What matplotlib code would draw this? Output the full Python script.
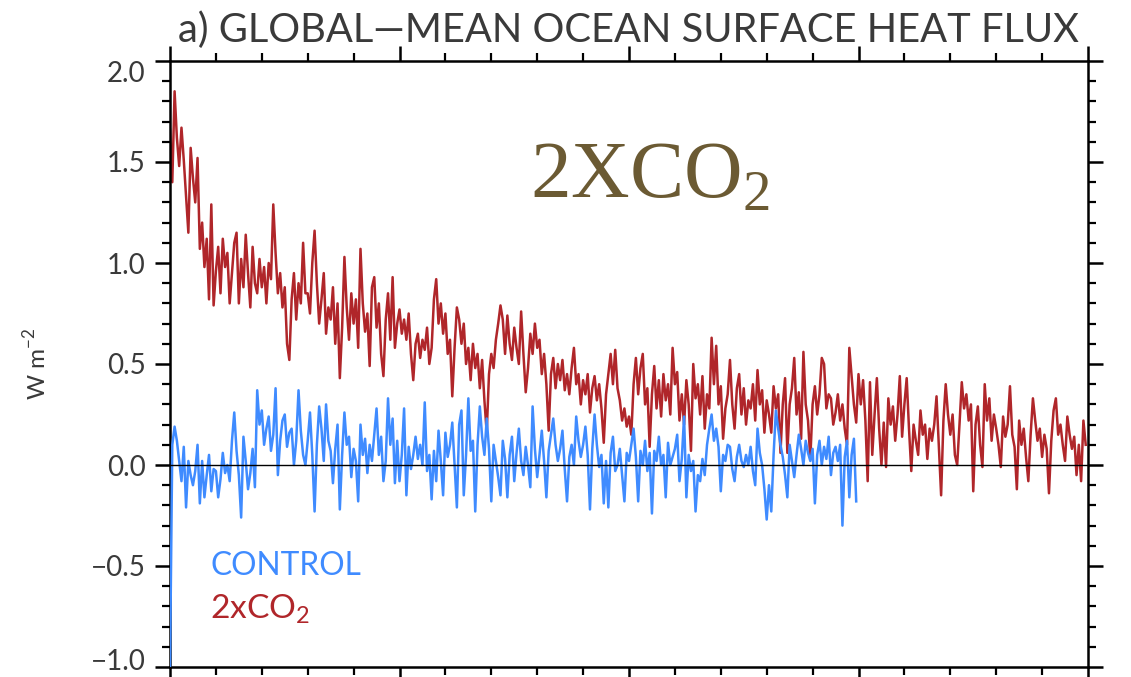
import numpy as np
import matplotlib
matplotlib.use("Agg")
import matplotlib.pyplot as plt
from matplotlib.ticker import MultipleLocator
import matplotlib.transforms as mtransforms

# ---- labels -------------------------------------------------------------
title_text = "a) GLOBAL\u2014MEAN OCEAN SURFACE HEAT FLUX"
ylabel_text = r"W m$^{\mathregular{-2}}$"
control_name = "CONTROL"
co2_name = r"2xCO$_\mathregular{2}$"
run_label = r"2XCO$_\mathregular{2}$"

yticks = [-1.0, -0.5, 0.0, 0.5, 1.0, 1.5, 2.0]
ytick_labels = ["\u22121.0", "\u22120.5", "0.0", "0.5", "1.0", "1.5", "2.0"]

# ---- annual global-mean ocean surface heat flux (W m-2) ------------------
co2_flux = np.array([
    1.66, 1.40, 1.85, 1.62, 1.48, 1.67, 1.51, 1.33, 1.15, 1.57,
    1.42, 1.30, 1.52, 1.07, 1.20, 0.98, 1.12, 0.82, 1.29, 0.79,
    0.96, 1.08, 0.85, 1.12, 0.98, 1.05, 0.80, 0.95, 1.10, 1.15,
    0.80, 1.02, 0.88, 1.14, 0.95, 0.78, 1.08, 0.90, 0.85, 1.02,
    0.88, 0.98, 0.80, 1.00, 0.92, 1.29, 1.05, 0.85, 0.95, 0.78,
    0.88, 0.60, 0.52, 0.82, 0.95, 0.72, 0.90, 0.80, 1.10, 0.85,
    0.85, 0.75, 1.00, 1.16, 0.90, 0.70, 0.82, 0.95, 0.65, 0.78,
    0.72, 0.88, 0.60, 0.80, 0.43, 0.68, 1.03, 0.78, 0.62, 0.85,
    0.70, 0.82, 0.58, 1.07, 0.80, 0.66, 0.75, 0.49, 0.88, 0.93,
    0.68, 0.80, 0.55, 0.44, 0.72, 0.85, 0.62, 0.93, 0.58, 0.70,
    0.77, 0.65, 0.72, 0.62, 0.75, 0.55, 0.42, 0.60, 0.65, 0.53,
    0.62, 0.57, 0.68, 0.50, 0.58, 0.82, 0.92, 0.70, 0.80, 0.65,
    0.75, 0.55, 0.62, 0.34, 0.58, 0.78, 0.72, 0.60, 0.70, 0.50,
    0.58, 0.42, 0.60, 0.48, 0.55, 0.38, 0.52, 0.32, 0.16, 0.45,
    0.55, 0.48, 0.62, 0.70, 0.79, 0.72, 0.55, 0.74, 0.60, 0.52,
    0.68, 0.58, 0.50, 0.76, 0.55, 0.36, 0.48, 0.65, 0.55, 0.70,
    0.58, 0.62, 0.45, 0.55, 0.40, 0.17, 0.45, 0.53, 0.38, 0.50,
    0.42, 0.52, 0.37, 0.45, 0.35, 0.48, 0.58, 0.40, 0.45, 0.30,
    0.42, 0.35, 0.45, 0.26, 0.38, 0.44, 0.32, 0.40, 0.28, 0.11,
    0.35, 0.45, 0.55, 0.40, 0.57, 0.38, 0.32, 0.22, 0.28, 0.19,
    0.24, 0.15, 0.40, 0.53, 0.35, 0.48, 0.55, 0.30, 0.38, 0.09,
    0.35, 0.49, 0.28, 0.42, 0.24, 0.45, 0.32, 0.40, 0.25, 0.58,
    0.40, 0.46, 0.22, 0.35, 0.20, 0.42, 0.30, 0.07, 0.50, 0.33,
    0.40, 0.25, 0.44, 0.18, 0.35, 0.28, 0.63, 0.40, 0.59, 0.30,
    0.39, 0.13, 0.28, 0.35, 0.52, 0.30, 0.18, 0.38, 0.45, 0.25,
    0.38, 0.20, 0.32, 0.28, 0.40, 0.22, 0.47, 0.30, 0.37, 0.16,
    0.32, 0.25, 0.16, 0.39, 0.28, 0.35, 0.06, 0.30, 0.43, 0.06,
    0.30, 0.38, 0.53, 0.25, 0.36, 0.13, 0.56, 0.30, 0.22, 0.03,
    0.30, 0.39, 0.25, 0.35, 0.53, 0.50, 0.28, 0.35, 0.33, 0.20,
    0.26, 0.35, 0.22, 0.30, 0.18, 0.10, 0.58, 0.44, 0.30, 0.21,
    0.45, 0.30, 0.42, 0.22, -0.08, 0.41, 0.05, 0.25, 0.43, 0.18,
    0.00, 0.21, -0.01, 0.33, 0.20, 0.29, 0.12, 0.25, 0.44, 0.14,
    0.30, 0.43, 0.18, -0.03, 0.20, 0.12, 0.05, 0.27, 0.15, 0.20,
    0.03, 0.18, 0.12, 0.20, 0.34, 0.10, -0.15, 0.22, 0.40, 0.25,
    0.15, 0.25, 0.05, 0.00, 0.20, 0.41, 0.28, 0.35, 0.22, 0.30,
    -0.13, 0.20, 0.29, 0.10, -0.01, 0.40, 0.22, 0.33, 0.12, 0.25,
    0.18, 0.10, -0.01, 0.24, 0.14, 0.20, 0.39, 0.15, 0.09, -0.12,
    0.22, 0.10, 0.18, 0.04, -0.08, 0.15, 0.33, 0.22, 0.12, 0.18,
    0.04, 0.15, 0.08, -0.14, 0.12, 0.27, 0.33, 0.15, 0.20, 0.10,
    0.02, 0.24, 0.15, 0.08, 0.14, -0.05, 0.10, -0.08, 0.22, 0.10,
])

control_flux = np.array([
    -1.00, 0.10, 0.19, 0.12, 0.02, -0.08, 0.09, -0.21, 0.02, -0.05,
    -0.10, -0.03, 0.10, -0.19, 0.02, -0.16, -0.05, 0.05, -0.13, -0.02,
    -0.03, -0.16, -0.07, 0.06, -0.04, 0.00, -0.08, 0.12, 0.26, 0.07,
    -0.05, -0.26, 0.14, 0.02, -0.12, -0.04, 0.08, -0.11, 0.37, 0.20,
    0.27, 0.10, 0.18, 0.24, 0.07, 0.15, 0.38, -0.05, 0.12, 0.22,
    0.25, 0.09, 0.16, 0.18, 0.00, 0.12, 0.37, 0.17, 0.05, 0.00,
    0.12, 0.26, 0.05, -0.23, 0.10, 0.29, 0.18, 0.02, 0.30, 0.12,
    0.07, -0.09, 0.08, 0.20, -0.22, 0.05, 0.26, 0.10, 0.14, -0.06,
    0.08, 0.02, -0.18, 0.20, 0.05, 0.13, -0.04, 0.10, 0.02, 0.15,
    0.28, 0.05, 0.14, -0.08, 0.02, 0.33, 0.10, 0.23, -0.09, 0.12,
    -0.08, 0.05, 0.28, -0.15, 0.09, -0.02, 0.05, 0.14, 0.03, 0.10,
    0.00, 0.31, -0.03, 0.05, -0.17, 0.07, -0.08, 0.17, 0.02, -0.15,
    0.16, 0.04, 0.10, 0.21, 0.00, -0.21, 0.20, 0.27, -0.15, 0.05,
    0.33, 0.07, 0.12, -0.23, 0.10, 0.29, 0.14, 0.05, 0.23, 0.08,
    -0.18, 0.10, 0.02, -0.06, -0.15, 0.12, 0.03, -0.16, 0.05, 0.14,
    -0.08, 0.06, 0.18, 0.02, -0.05, 0.09, 0.00, -0.11, 0.29, 0.08,
    -0.06, 0.05, 0.17, 0.02, -0.16, 0.07, 0.15, 0.23, 0.10, 0.02,
    0.08, 0.17, -0.02, -0.18, 0.04, 0.10, 0.00, 0.24, 0.12, 0.04,
    0.10, 0.19, 0.05, -0.22, 0.08, 0.25, 0.10, -0.01, 0.05, -0.19,
    0.02, -0.21, 0.06, 0.14, -0.03, 0.00, 0.08, -0.05, -0.18, 0.06,
    0.02, 0.10, 0.18, 0.04, -0.18, 0.07, 0.00, 0.12, -0.03, 0.06,
    -0.24, 0.07, 0.02, 0.14, 0.00, 0.05, -0.16, 0.11, 0.00, 0.04,
    0.08, 0.15, -0.08, 0.03, 0.24, -0.16, 0.05, -0.03, 0.02, -0.23,
    -0.05, -0.08, 0.03, -0.05, 0.10, 0.18, 0.25, 0.12, 0.18, 0.09,
    -0.13, 0.05, 0.02, 0.10, 0.09, -0.02, -0.08, 0.04, 0.10, 0.02,
    -0.01, 0.05, 0.00, 0.09, -0.03, -0.10, 0.18, 0.06, 0.00, -0.12,
    -0.27, -0.10, -0.23, 0.05, 0.27, 0.18, 0.10, 0.04, -0.05, -0.16,
    0.10, 0.02, -0.06, 0.05, 0.15, 0.08, 0.00, 0.12, 0.06, 0.02,
    0.08, -0.19, 0.05, 0.12, 0.00, 0.09, 0.03, 0.14, -0.05, 0.06,
    0.09, 0.02, 0.10, -0.30, 0.04, 0.12, -0.16, 0.05, 0.13, -0.18,
])

years_co2 = np.arange(len(co2_flux))
years_control = np.arange(len(control_flux))

RED = "#b0262a"
BLUE = "#3f8bff"
INK = "#3a3a3a"
OLIVE = "#6b5a33"
SANS = ["Lato", "DejaVu Sans"]
SERIF = ["Liberation Serif", "DejaVu Serif"]

W, H = 1131, 677
fig = plt.figure(figsize=(W / 100, H / 100), dpi=100)
ax = fig.add_axes([170 / W, 10 / H, 918 / W, 606 / H])

ax.plot(years_co2, co2_flux, color=RED, lw=1.8, zorder=2)
ax.plot(years_control, control_flux, color=BLUE, lw=1.8, zorder=3)
ax.axhline(0.0, color="black", lw=1.0, zorder=4)

ax.set_xlim(0, 400)
ax.set_ylim(-1.0, 2.0)
ax.xaxis.set_major_locator(MultipleLocator(100))
ax.xaxis.set_minor_locator(MultipleLocator(20))
ax.set_yticks(yticks)
ax.set_yticklabels(ytick_labels)
ax.yaxis.set_minor_locator(MultipleLocator(0.1))

for s in ax.spines.values():
    s.set_linewidth(1.8)
ax.tick_params(which="major", direction="out", length=10.5, width=1.8,
               top=True, right=True, labelbottom=False, pad=7,
               labelsize=20, labelcolor=INK)
ax.tick_params(which="minor", direction="out", length=5.5, width=1.6,
               top=True, right=True)
for lab in ax.get_yticklabels():
    lab.set_fontfamily(SANS)

# nudge the end labels inside the frame
labs = ax.get_yticklabels()
labs[-1].set_transform(labs[-1].get_transform() +
                       mtransforms.ScaledTranslation(0, -0.10, fig.dpi_scale_trans))
labs[0].set_transform(labs[0].get_transform() +
                      mtransforms.ScaledTranslation(0, 0.08, fig.dpi_scale_trans))

title = fig.text(178 / W, 1 - 42 / H, title_text, ha="left", va="baseline",
                 fontsize=25, color=INK, family=SANS)
ylab = fig.text(36 / W, 1 - 364 / H, ylabel_text, rotation=90, ha="center",
                va="center", fontsize=19, color=INK, family=SANS)

big = fig.text(530 / W, 1 - 198 / H, run_label, ha="left", va="baseline",
               fontsize=58, color=OLIVE, family=SERIF)

ctl = fig.text(210 / W, 1 - 575 / H, control_name, ha="left", va="baseline",
               fontsize=21, color=BLUE, family=SANS)
co2 = fig.text(210 / W, 1 - 618 / H, co2_name, ha="left", va="baseline",
               fontsize=21, color=RED, family=SANS)


def fit_width(txt, target_px):
    r = fig.canvas.get_renderer()
    w = txt.get_window_extent(renderer=r).width
    txt.set_fontsize(txt.get_fontsize() * target_px / w)


def fit_height(txt, target_px):
    r = fig.canvas.get_renderer()
    h = txt.get_window_extent(renderer=r).height
    txt.set_fontsize(txt.get_fontsize() * target_px / h)


fig.canvas.draw()
fit_width(title, 902)
fit_width(big, 240)
fit_width(ctl, 150)
fit_width(co2, 100)
fit_height(ylab, 72)

fig.savefig("out.png", dpi=100)
